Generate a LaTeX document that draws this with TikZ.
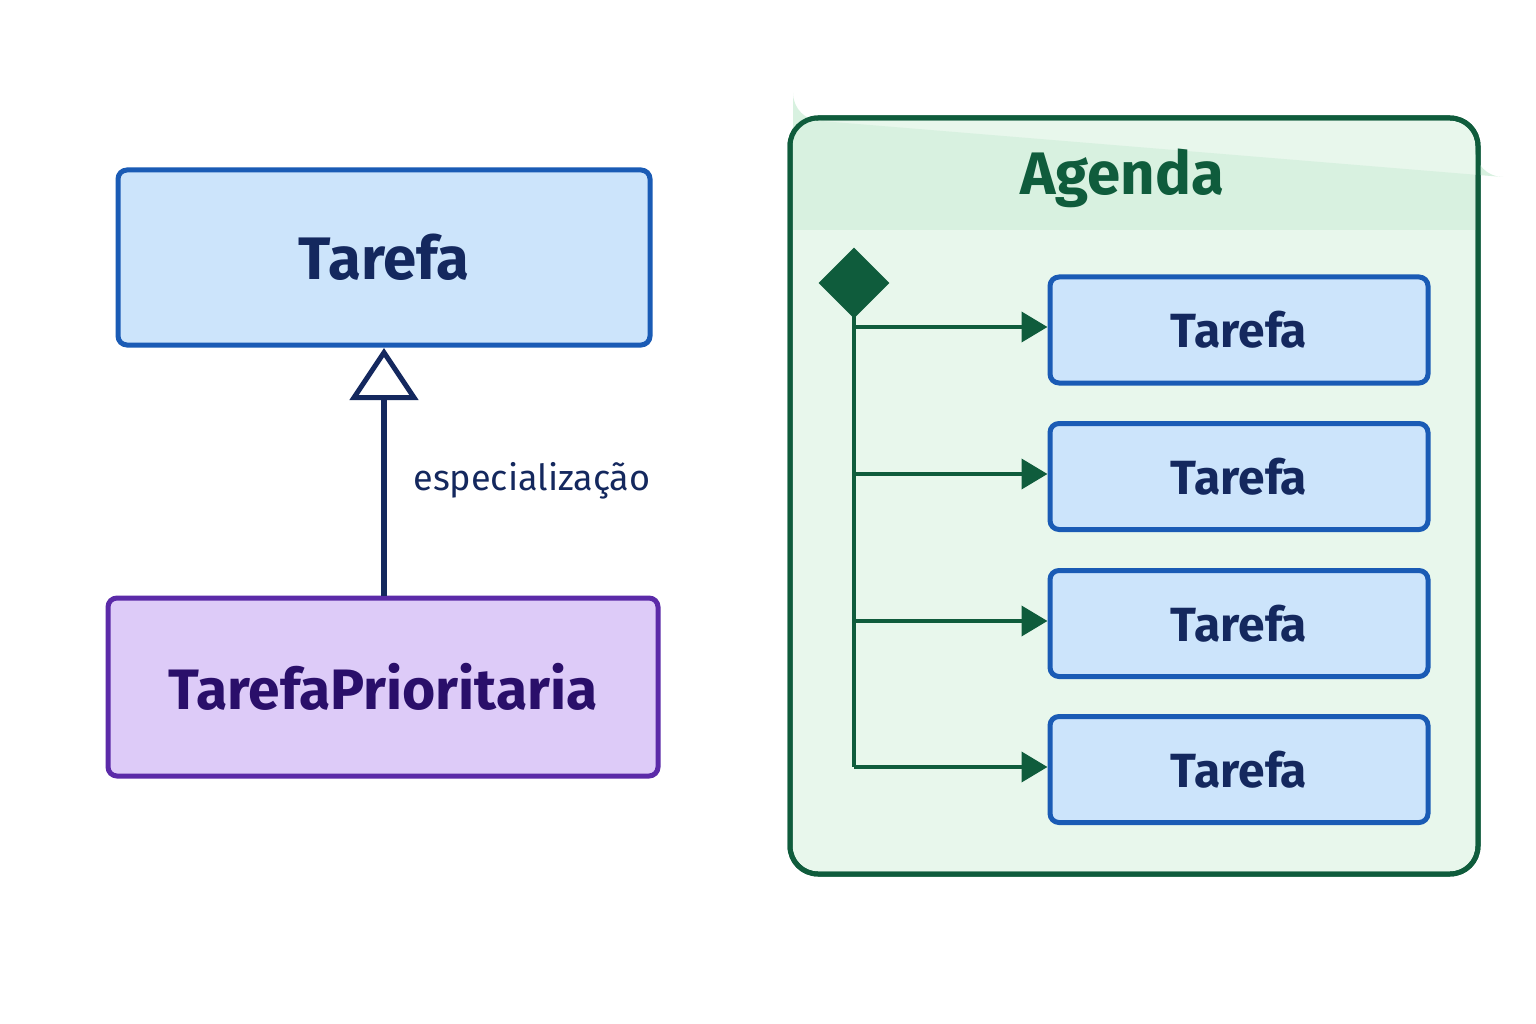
\documentclass[tikz,border=0pt]{standalone}
\usepackage{fontspec}
\setmainfont{Fira Sans}
\usetikzlibrary{arrows.meta}
\definecolor{bluefill}{HTML}{CCE4FB}
\definecolor{bluestroke}{HTML}{1A5BB5}
\definecolor{navy}{HTML}{14285E}
\definecolor{purplefill}{HTML}{DDCBF8}
\definecolor{purplestroke}{HTML}{5B2AA8}
\definecolor{purpletext}{HTML}{2A0F6A}
\definecolor{green}{HTML}{0F5C3C}
\definecolor{greenfill}{HTML}{E8F7EC}
\definecolor{greenhead}{HTML}{D8F1E0}
\begin{document}
\begin{tikzpicture}[x=1pt,y=-1pt,
  cls/.style={draw=bluestroke,fill=bluefill,line width=5pt,rounded corners=9pt,text=navy,font=\bfseries},
  arr/.style={draw=green,line width=4pt,-{Triangle[length=26pt,width=30pt]}}]
\useasboundingbox (0,0) rectangle (1536,1024);
\fill[white] (0,0) rectangle (1536,1024);
% left
\node[cls,minimum width=532pt,minimum height=175pt,font=\bfseries\fontsize{60}{60}\selectfont] (t) at (384,257.5) {Tarefa};
\node[cls,draw=purplestroke,fill=purplefill,text=purpletext,minimum width=550pt,minimum height=178pt,font=\bfseries\fontsize{57}{57}\selectfont] (tp) at (383,687) {TarefaPrioritaria};
\draw[navy,line width=6pt,-{Triangle[open,length=52pt,width=68pt,fill=white,line width=5pt]}] (tp.north -| 384,0) -- (384,348);
\node[text=navy,font=\fontsize{36}{36}\selectfont,anchor=west] (lab) at (410,481) {especialização};
% container
\node[draw=green,fill=greenfill,line width=5pt,rounded corners=28pt,minimum width=688pt,minimum height=756pt] (ag) at (1134,496) {};
\fill[greenhead] (793,121) ++(0,28) -- ++(0,81) -- (1475,230) -- (1475,149) arc (0:-90:-28) -- (821,121) arc (90:180:28);
\draw[green,line width=5pt,rounded corners=28pt] (790,118) rectangle (1478,874);
\node[text=green,font=\bfseries\fontsize{60}{60}\selectfont] (agt) at (1122,178) {Agenda};
\node[fill=green,minimum width=50pt,minimum height=50pt,rotate=45,inner sep=0pt] (d) at (854,283) {};
\coordinate (bot) at (854,767);
\draw[green,line width=4pt] (d.center) -- (bot);
\foreach \i/\y in {1/330,2/476.5,3/623.5,4/769.5}{
  \node[cls,minimum width=378pt,minimum height=106pt,font=\bfseries\fontsize{48}{48}\selectfont] (b\i) at (1239,\y) {Tarefa};
}
\foreach \i/\y in {1/327,2/474,3/621,4/767}{
  \coordinate (s\i) at (854,\y);
  \draw[arr] (s\i) -- (b\i.west |- s\i);
}
\end{tikzpicture}
\end{document}
